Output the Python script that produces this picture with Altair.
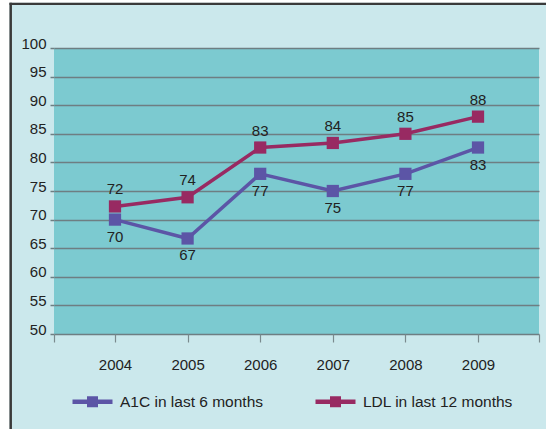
import altair as alt
import pandas as pd

years = [2004, 2005, 2006, 2007, 2008, 2009]
a1c_values = [70, 66.7, 78, 75, 78, 82.6]
a1c_labels = ["70", "67", "77", "75", "77", "83"]
ldl_values = [72.3, 73.9, 82.6, 83.4, 85, 88]
ldl_labels = ["72", "74", "83", "84", "85", "88"]
series_names = ["A1C in last 6 months", "LDL in last 12 months"]
series_colors = ["#5C55A6", "#982A62"]
y_ticks = [50, 55, 60, 65, 70, 75, 80, 85, 90, 95, 100]
x_domain = [2003.16, 2009.84]

rows = []
for i, yr in enumerate(years):
    rows.append({"year": yr, "value": a1c_values[i], "label": a1c_labels[i],
                 "series": series_names[0]})
    rows.append({"year": yr, "value": ldl_values[i], "label": ldl_labels[i],
                 "series": series_names[1]})
df = pd.DataFrame(rows)

FONT = "Liberation Sans, Arial, sans-serif"
W, H = 485, 286

xenc = alt.X("year:Q",
             scale=alt.Scale(domain=x_domain, nice=False, zero=False),
             axis=alt.Axis(values=[x_domain[0]] + years + [x_domain[1]],
                           labelExpr="datum.value % 1 == 0 ? toString(datum.value) : ''",
                           title=None, grid=False, domain=False, labelOverlap=False,
                           tickSize=8, tickColor="#7A8A8E", tickWidth=1.2,
                           labelPadding=15, labelFontSize=15, labelFont=FONT,
                           labelColor="#222222"))
yenc = alt.Y("value:Q",
             scale=alt.Scale(domain=[50, 100], nice=False, zero=False),
             axis=alt.Axis(values=y_ticks, tickCount=11, title=None, grid=True,
                           labelOverlap=False,
                           gridColor="#6E7E82", gridWidth=1.5, gridOpacity=1,
                           domain=False, tickSize=4, tickColor="#6E7E82", tickWidth=1.5,
                           labelBaseline="alphabetic", labelPadding=4,
                           labelFontSize=15, labelFont=FONT, labelColor="#222222"))

color_scale = alt.Scale(domain=series_names, range=series_colors)

legend_path = ("M-1,0H1"
               "M-0.1625,-0.1625H0.1625V0.1625H-0.1625Z"
               "M-0.05,-0.05H0.05V0.05H-0.05Z")

base = alt.Chart(df)

lines = base.mark_line(strokeWidth=3.5).encode(
    x=xenc, y=yenc,
    color=alt.Color("series:N", scale=color_scale,
                    legend=alt.Legend(orient="none", legendX=16, legendY=331,
                                      direction="horizontal", title=None,
                                      symbolType=legend_path, symbolSize=1600,
                                      symbolStrokeWidth=4.5,
                                      labelFontSize=15.5, labelFont=FONT,
                                      labelColor="#222222", labelOffset=5,
                                      columnPadding=42, padding=0)),
    detail="series:N",
)

points = base.mark_point(shape="square", filled=True, size=150, opacity=1).encode(
    x=xenc, y=yenc,
    color=alt.Color("series:N", scale=color_scale, legend=None),
)

labels_a1c = base.transform_filter(alt.datum.series == series_names[0]).mark_text(
    fontSize=15, font=FONT, color="#222222", baseline="middle", dy=17).encode(
    x=xenc, y=yenc, text="label:N")
labels_ldl = base.transform_filter(alt.datum.series == series_names[1]).mark_text(
    fontSize=15, font=FONT, color="#222222", baseline="middle", dy=-17).encode(
    x=xenc, y=yenc, text="label:N")

one = pd.DataFrame({"a": [0]})
deco_left = alt.Chart(one).mark_rect(color="white").encode(
    x=alt.value(-54), x2=alt.value(-44.5), y=alt.value(-48), y2=alt.value(381))
deco_top = alt.Chart(one).mark_rect(color="white").encode(
    x=alt.value(-54), x2=alt.value(492), y=alt.value(-48), y2=alt.value(-45.3))
border_left = alt.Chart(one).mark_rule(color="#3A3A3A", strokeWidth=2.5).encode(
    x=alt.value(-43.3), y=alt.value(-45.3), y2=alt.value(381))
border_top = alt.Chart(one).mark_rule(color="#3A3A3A", strokeWidth=2.2).encode(
    x=alt.value(-44.5), x2=alt.value(492), y=alt.value(-44.2))

chart = alt.layer(lines, points, labels_a1c, labels_ldl,
                  deco_left, deco_top, border_left, border_top).properties(
    width=W, height=H,
    autosize=alt.AutoSizeParams(type="none"),
    padding={"left": 54, "top": 48, "right": 7, "bottom": 95},
    background="#CBE8EC",
).configure_view(fill="#7CCAD0", strokeWidth=0)

chart.save("out.html", embed_options={"renderer": "svg", "actions": False})
